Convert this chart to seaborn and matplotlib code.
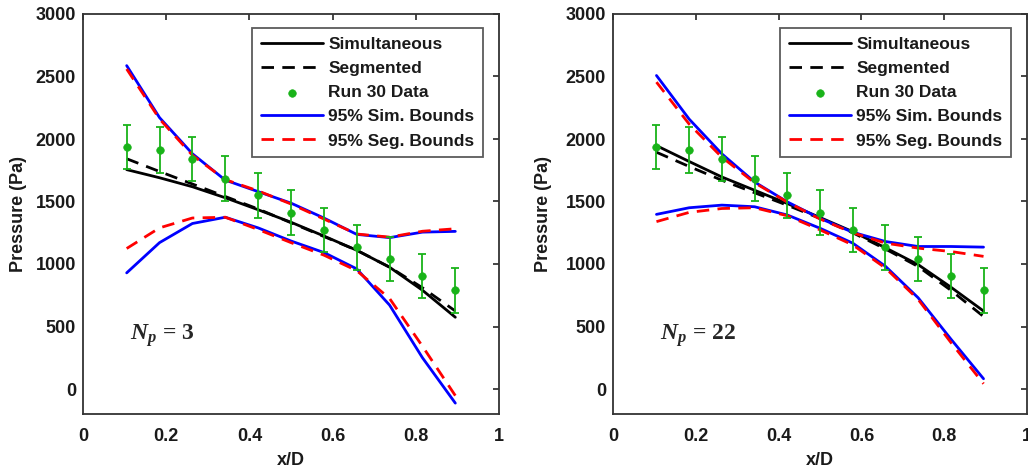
import numpy as np
import pandas as pd
import matplotlib
matplotlib.use("Agg")
import matplotlib.pyplot as plt
import seaborn as sns

# ---- data ----
x_pos = [0.105, 0.184, 0.263, 0.342, 0.421, 0.500, 0.579, 0.658, 0.737, 0.816, 0.895]
run30 = [1935, 1910, 1840, 1680, 1550, 1410, 1272, 1135, 1040, 905, 790]
run30_err = [178, 182, 178, 180, 180, 180, 175, 180, 172, 178, 180]

# Np = 3
sim3 = [1755, 1690, 1618, 1530, 1434, 1334, 1224, 1110, 974, 790, 574]
seg3 = [1842, 1740, 1640, 1540, 1440, 1330, 1220, 1110, 975, 810, 624]
sim3_up = [2587, 2171, 1882, 1671, 1579, 1487, 1368, 1237, 1211, 1255, 1261]
seg3_up = [2560, 2160, 1870, 1675, 1585, 1480, 1360, 1240, 1215, 1262, 1282]
sim3_lo = [929, 1171, 1324, 1374, 1289, 1184, 1092, 961, 671, 250, -113]
seg3_lo = [1124, 1289, 1368, 1374, 1276, 1171, 1071, 947, 724, 342, -53]

# Np = 22
sim22 = [1947, 1820, 1696, 1590, 1484, 1372, 1259, 1130, 995, 815, 624]
seg22 = [1894, 1780, 1670, 1570, 1470, 1365, 1250, 1120, 980, 790, 580]
sim22_up = [2508, 2159, 1881, 1656, 1497, 1365, 1254, 1180, 1140, 1140, 1135]
seg22_up = [2455, 2119, 1854, 1650, 1495, 1360, 1250, 1167, 1127, 1100, 1061]
sim22_lo = [1397, 1450, 1471, 1458, 1392, 1286, 1167, 982, 730, 400, 82]
seg22_lo = [1339, 1413, 1444, 1450, 1386, 1273, 1153, 968, 717, 373, 42]

panels = [
    ("3", sim3, seg3, sim3_up, sim3_lo, seg3_up, seg3_lo),
    ("22", sim22, seg22, sim22_up, sim22_lo, seg22_up, seg22_lo),
]

x_ticks = [0, 0.2, 0.4, 0.6, 0.8, 1]
x_ticklabels = ["0", "0.2", "0.4", "0.6", "0.8", "1"]
y_ticks = [0, 500, 1000, 1500, 2000, 2500, 3000]

# ---- style ----
sns.set_theme(style="white")
plt.rcParams["font.family"] = ["Liberation Sans", "DejaVu Sans"]
plt.rcParams["font.weight"] = "bold"
plt.rcParams["mathtext.fontset"] = "custom"
plt.rcParams["mathtext.rm"] = "Liberation Serif:bold"
plt.rcParams["mathtext.it"] = "Liberation Serif:bold:italic"
plt.rcParams["mathtext.bf"] = "Liberation Serif:bold"

fig = plt.figure(figsize=(10.28, 4.73), dpi=100)
W, H = 1028, 473
ax_rects = [
    [83 / W, 1 - 414 / H, 416 / W, 400 / H],
    [613 / W, 1 - 414 / H, 414 / W, 400 / H],
]
ylabel_pads = [6, 10]

green = "#19b319"
dash = (0, (4.5, 3))
for rect, ylp, (np_lbl, sim, seg, su, sl, gu, gl) in zip(ax_rects, ylabel_pads, panels):
    ax = fig.add_axes(rect)
    sns.lineplot(x=x_pos, y=sim, ax=ax, color="black", lw=2, label="Simultaneous")
    sns.lineplot(x=x_pos, y=seg, ax=ax, color="black", lw=2, label="Segmented",
                 linestyle=dash)
    ax.errorbar(x_pos, run30, yerr=run30_err, fmt="none", ecolor=green,
                elinewidth=1.3, capsize=3, capthick=1.3, zorder=4)
    sns.scatterplot(x=x_pos, y=run30, ax=ax, color=green, s=30, edgecolor=green,
                    label="Run 30 Data", zorder=5)
    sns.lineplot(x=x_pos, y=su, ax=ax, color="#0000ff", lw=2, label="95% Sim. Bounds")
    sns.lineplot(x=x_pos, y=sl, ax=ax, color="#0000ff", lw=2)
    sns.lineplot(x=x_pos, y=gu, ax=ax, color="#ff0000", lw=2, linestyle=dash,
                 label="95% Seg. Bounds")
    sns.lineplot(x=x_pos, y=gl, ax=ax, color="#ff0000", lw=2, linestyle=dash)

    ax.set_xlim(0, 1)
    ax.set_ylim(-200, 3000)
    ax.set_xticks(x_ticks)
    ax.set_xticklabels(x_ticklabels)
    ax.set_yticks(y_ticks)
    ax.tick_params(direction="in", length=4, width=1.2, top=True, right=True,
                   labelsize=13, colors="#262626")
    ax.tick_params(axis="x", pad=10)
    ax.tick_params(axis="y", pad=5)
    for lab in ax.get_xticklabels() + ax.get_yticklabels():
        lab.set_fontweight("bold")
        lab.set_color("#1a1a1a")
    for sp in ax.spines.values():
        sp.set_color("#333333")
        sp.set_linewidth(1.3)
    ax.set_xlabel("x/D", fontsize=13, fontweight="bold", labelpad=5, color="#1a1a1a")
    ax.set_ylabel("Pressure (Pa)", fontsize=13, fontweight="bold", labelpad=ylp,
                  color="#1a1a1a")

    ax.text(0.113, 425, r"$N_p$ = " + np_lbl, fontsize=17, fontweight="bold",
            fontfamily="Liberation Serif", ha="left", va="center")

    handles, labels = ax.get_legend_handles_labels()
    leg = ax.legend(handles, labels, loc="upper right", bbox_to_anchor=(0.962, 0.965),
                    borderaxespad=0, fontsize=12.5, frameon=True, fancybox=False,
                    handlelength=3.6, labelspacing=0.52, borderpad=0.5,
                    handletextpad=0.3)
    leg.get_frame().set_edgecolor("#333333")
    leg.get_frame().set_linewidth(1.3)
    for t in leg.get_texts():
        t.set_fontweight("bold")
        t.set_color("#1a1a1a")

fig.savefig("out.png", dpi=100)
